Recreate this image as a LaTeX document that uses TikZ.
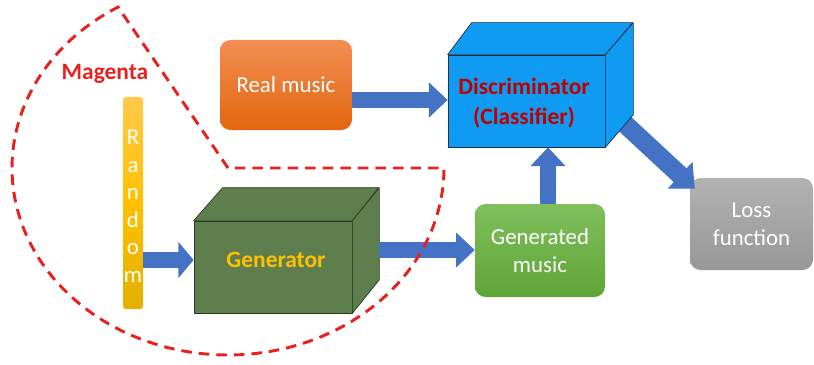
\documentclass[tikz,border=0pt]{standalone}
\usepackage{fontspec}
\setmainfont{Carlito}
\usetikzlibrary{arrows.meta,calc}
\definecolor{arrowblue}{HTML}{4472C4}
\definecolor{orangetop}{HTML}{F28E52}
\definecolor{orangebot}{HTML}{E2660F}
\definecolor{greentop}{HTML}{80BF5C}
\definecolor{greenbot}{HTML}{5EA536}
\definecolor{graytop}{HTML}{B2B2B2}
\definecolor{graybot}{HTML}{979797}
\definecolor{yellowtop}{HTML}{FFCA4A}
\definecolor{yellowbot}{HTML}{E2B000}
\definecolor{discblue}{HTML}{0F9BF2}
\definecolor{genolive}{HTML}{5F7E4D}
\definecolor{genedge}{HTML}{2A3A20}
\definecolor{discedge}{HTML}{1A3050}
\definecolor{darkred}{HTML}{C00000}
\definecolor{genyellow}{HTML}{FFC000}
\definecolor{dashred}{HTML}{E8211E}
\begin{document}
\begin{tikzpicture}[x=0.03cm,y=-0.03cm,
  txt/.style={font=\fontsize{19.5}{24}\selectfont, align=center, text=white},
  rbox/.style={rounded corners=9pt, inner sep=0pt},
  blockarrow/.style={arrowblue, line width=14pt, -{Triangle[width=29pt,length=16pt]}},
  cubeface/.style={line width=0.6pt, line join=round},
  reddash/.style={dashred, line width=2.5pt, dash pattern=on 9pt off 6pt}
]
\useasboundingbox (0,0) rectangle (814,364);

% boxes
\node[rbox, top color=orangetop, bottom color=orangebot, minimum width=3.96cm, minimum height=2.7cm] (real) at (286,85) {};
\node[txt] (reallabel) at (real.center) {Real music};

\node[rbox, top color=greentop, bottom color=greenbot, minimum width=3.9cm, minimum height=2.79cm] (genm) at (540,250.5) {};
\node[txt] (genmlabel) at (genm.center) {Generated\\music};

\node[rbox, top color=graytop, bottom color=graybot, minimum width=3.69cm, minimum height=2.76cm] (loss) at (751.5,224) {};
\node[txt] (losslabel) at (loss.center) {Loss\\function};

\node[rounded corners=2.5pt, inner sep=0pt, top color=yellowtop, bottom color=yellowbot, middle color=genyellow, minimum width=0.6cm, minimum height=6.36cm] (rnd) at (133,203) {};
\node[txt, font=\fontsize{19.5}{23.5}\selectfont] (rndlabel) at (133,206) {R\\a\\n\\d\\o\\m};

% discriminator -> loss (behind the cube)
\node[minimum size=0pt, inner sep=0pt] (disc) at (526.5,101) {};
\coordinate (d5s) at (612,112);
\coordinate (d5e) at ($(loss.north west)+(5,11)$);
\draw[arrowblue, line width=16pt, -{Triangle[width=30pt,length=17pt]}] (d5s) -- (d5e);

% discriminator cube
\node[cubeface, draw=discedge, fill=discblue, minimum width=4.71cm, minimum height=2.76cm, inner sep=0pt] (disc) at (526.5,101) {};
\draw[cubeface, draw=discedge, fill=discblue] (disc.north west) -- ++(24,-32) -- ++(161,0) -- (disc.north east) -- cycle;
\draw[cubeface, draw=discedge, fill=discblue] (disc.north east) -- ++(28,-32) -- ++(0,92) -- (disc.south east) -- cycle;
\node[txt, text=darkred, font=\fontsize{20}{25.5}\selectfont\bfseries] (disclabel) at (524,103) {Discriminator\\(Classifier)};

% generator cube
\node[cubeface, draw=genedge, fill=genolive, minimum width=4.74cm, minimum height=2.76cm, inner sep=0pt] (gen) at (273,267) {};
\draw[cubeface, draw=genedge, fill=genolive] (gen.north west) -- ++(29,-33) -- ++(156,0) -- (gen.north east) -- cycle;
\draw[cubeface, draw=genedge, fill=genolive] (gen.north east) -- ++(27,-33) -- ++(0,92) -- (gen.south east) -- cycle;
\node[txt, text=genyellow, font=\fontsize{20}{24}\selectfont\bfseries] (genlabel) at (276,260) {Generator};

% arrows
\draw[blockarrow] ($(real.east)+(0,15)$) -- ($(disc.west)+(0,-1)$);
\draw[blockarrow, line width=13.5pt, -{Triangle[width=30pt,length=13pt]}] (rnd.east |- genlabel) -- (gen.west |- genlabel);
\coordinate (g3s) at ($(gen.east)+(27,-17)$);
\draw[blockarrow, line width=13pt] (g3s) -- (g3s -| genm.west);
\coordinate (g4s) at ($(genm.north)+(8,0)$);
\draw[blockarrow] (g4s) -- (g4s |- disc.south);

% magenta boundary
\node[text=dashred, font=\fontsize{20}{24}\selectfont\bfseries] (magenta) at (105,74) {Magenta};
\coordinate (pie) at (228,168);
\draw[reddash] (pie) -- plot[domain=-120.6:-360, samples=150] ({228+216*cos(\x)},{168+187*sin(\x)}) -- cycle;
\end{tikzpicture}
\end{document}
